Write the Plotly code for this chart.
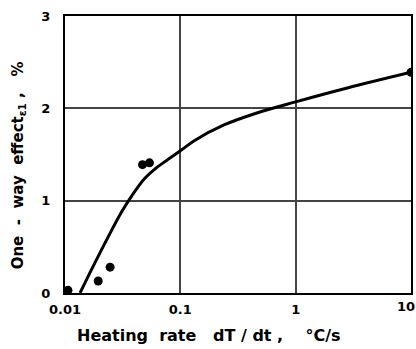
import plotly.graph_objects as go

# curve
curve_x = [0.0135, 0.0174, 0.0235, 0.031, 0.0378, 0.049, 0.0598, 0.0729, 0.1,
           0.132, 0.239, 0.461, 1.0, 2.8, 10.0]
curve_y = [0.0, 0.28, 0.60, 0.88, 1.05, 1.24, 1.34, 1.42, 1.54,
           1.65, 1.82, 1.95, 2.07, 2.22, 2.39]

# measured points
pts_x = [0.0106, 0.0194, 0.0246, 0.047, 0.054, 10.0]
pts_y = [0.03, 0.13, 0.28, 1.39, 1.41, 2.39]

x_ticks = [0.01, 0.1, 1, 10]
x_ticklabels = ["0.01", "0.1", "1", ""]
y_ticks = [0, 1, 2, 3]
y_ticklabels = ["0", "1", "2", "3"]

x_title = "Heating  rate   dT / dt ,    °C/s"
y_title = "One  -  way  effect<sub>ε1</sub> ,   %"

FONT = "DejaVu Sans"

fig = go.Figure()
fig.add_trace(go.Scatter(x=curve_x, y=curve_y, mode="lines",
                         line=dict(color="black", width=3, shape="spline", smoothing=1.0),
                         showlegend=False))
fig.add_trace(go.Scatter(x=pts_x, y=pts_y, mode="markers",
                         marker=dict(color="black", size=9),
                         showlegend=False))

# last x tick label, drawn right-aligned at the edge (partly cut in the reference)
fig.add_annotation(x=1, xref="x", y=0, yref="y", text="10", showarrow=False,
                   xanchor="right", yanchor="top", xshift=6, yshift=-4,
                   font=dict(family=FONT, size=13, color="black", weight="bold"))

# axis titles
fig.add_annotation(x=0.417, xref="paper", y=-0.152, yref="paper", text=x_title,
                   showarrow=False, xanchor="center", yanchor="middle",
                   font=dict(family=FONT, size=16, color="black", weight="bold"))
fig.add_annotation(x=-0.135, xref="paper", y=0.462, yref="paper", text=y_title,
                   showarrow=False, xanchor="center", yanchor="middle", textangle=-90,
                   font=dict(family=FONT, size=15, color="black", weight="bold"))

fig.update_layout(
    width=416, height=349,
    margin=dict(l=65, r=3, t=16, b=56),
    paper_bgcolor="white", plot_bgcolor="white",
    font=dict(family=FONT, color="black", size=13, weight="bold"),
    xaxis=dict(type="log", range=[-2, 1], tickvals=x_ticks, ticktext=x_ticklabels,
               showgrid=True, gridcolor="#444", gridwidth=1.5,
               showline=True, linecolor="black", linewidth=2, mirror=True,
               ticks="", ticklabelstandoff=3, zeroline=False),
    yaxis=dict(range=[0, 3], tickvals=y_ticks, ticktext=y_ticklabels,
               showgrid=True, gridcolor="#444", gridwidth=1.5,
               showline=True, linecolor="black", linewidth=2, mirror=True,
               ticks="", ticklabelstandoff=10, zeroline=False),
)

fig.write_html("out.html")
